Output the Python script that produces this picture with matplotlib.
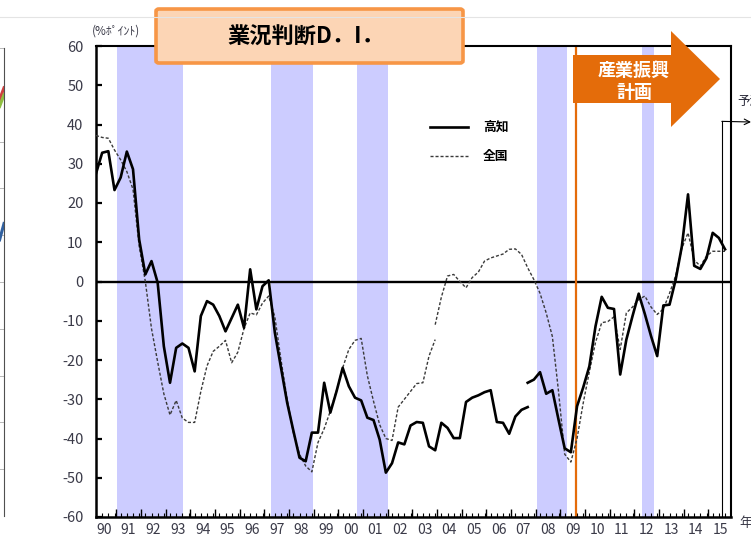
import numpy as np
import matplotlib
matplotlib.use("Agg")
import matplotlib.pyplot as plt
from matplotlib.patches import FancyBboxPatch, Polygon
from matplotlib.lines import Line2D

plt.rcParams['font.family'] = ['Liberation Sans Narrow', 'Noto Sans CJK JP', 'DejaVu Sans']
plt.rcParams['axes.unicode_minus'] = False
CJK = ['Noto Sans CJK JP', 'DejaVu Sans']

W, H = 751, 540

# ---- data: business conditions DI, quarterly from the March 1990 survey ----
first_survey = 1990.23
quarter_step = 0.25

# Kochi prefecture (old basis up to the series revision, then revised basis)
kochi_di = [27.5, 32.8, 33.2, 23.3, 26.5, 33.1, 28.6, 10.7, 1.8, 5.2,
            -0.3, -16.5, -25.8, -16.9, -15.8, -16.9, -22.9, -8.8, -5.0, -5.9,
            -8.8, -12.7, -9.3, -5.9, -11.8, 3.1, -7.1, -1.2, 0.3, -13.0,
            -22.0, -30.9, -38.0, -44.9, -45.8, -38.5, -38.5, -25.8, -33.4, -28.0,
            -22.0, -26.7, -29.6, -30.3, -34.7, -35.3, -40.3, -48.7, -46.3, -41.0,
            -41.5, -36.7, -35.8, -36.0, -42.0, -43.0, -36.0, -37.3, -39.9, -39.9,
            -30.7, -29.6, -29.0, -28.2, -27.7, -35.8, -36.0, -38.8, -34.4, -32.7,
            -32.0]
kochi_di_revised = [-25.8, -25.0, -23.1, -28.6, -27.7, -35.2, -42.5, -43.5, -31.8, -27.0,
                    -21.6, -11.4, -3.9, -6.7, -7.0, -23.7, -14.8, -8.8, -3.1, -8.3,
                    -13.9, -19.0, -6.1, -5.9, 0.5, 9.0, 22.2, 4.0, 3.2, 6.0,
                    12.4, 11.1, 8.2]

# Nationwide
national_di = [37.2, 36.7, 36.5, 33.5, 31.0, 28.0, 23.5, 9.0, 0.0, -12.0,
               -20.5, -28.6, -34.0, -30.3, -34.8, -35.9, -35.9, -28.0, -21.5, -17.8,
               -16.5, -15.0, -20.7, -18.0, -12.0, -8.0, -8.5, -5.5, -3.7, -9.0,
               -20.0, -30.0, -38.5, -44.0, -47.0, -48.5, -41.0, -37.5, -33.0, -27.8,
               -22.0, -17.3, -15.0, -14.5, -24.0, -30.5, -36.5, -40.0, -40.5, -32.0,
               -30.0, -28.0, -26.0, -25.8, -19.0, -14.8]
national_di_revised = [-11.0, -4.0, 1.4, 1.8, 0.0, -1.6, 1.0, 2.4, 5.2, 6.0,
                       6.5, 7.0, 8.2, 8.3, 6.9, 3.5, 0.5, -3.0, -8.0, -14.0,
                       -28.0, -44.0, -46.0, -40.0, -31.0, -23.0, -15.5, -10.5, -10.2, -9.0,
                       -17.3, -8.0, -6.5, -4.6, -3.7, -6.5, -8.4, -7.0, -3.0, 1.5,
                       8.5, 12.4, 5.5, 3.9, 6.5, 7.7, 7.7, 7.7]

# recession periods (decimal years)
recessions = [(1991.08, 1993.76), (1997.32, 1999.03), (2000.81, 2002.07),
              (2008.11, 2009.32), (2012.36, 2012.85)]
plan_start = 2009.69        # start of the industrial promotion plan
forecast_mark = 2015.60

year_labels = ['90', '91', '92', '93', '94', '95', '96', '97', '98', '99',
               '00', '01', '02', '03', '04', '05', '06', '07', '08', '09',
               '10', '11', '12', '13', '14', '15']
first_year = 1990
y_ticks = [60, 50, 40, 30, 20, 10, 0, -10, -20, -30, -40, -50, -60]

# small neighbouring panel at the left edge
left_panel_red = [8.9, 9.15]
left_panel_green = [8.75, 9.0]
left_panel_blue = [5.9, 6.25]


def px(x, y):
    return x / W, 1 - y / H


fig = plt.figure(figsize=(W / 100, H / 100), dpi=100)
fig.patch.set_facecolor('white')

# faint slide header rule
fig.add_artist(Line2D([0, 1], [1 - 17 / H] * 2, color='#e4e4e4', lw=0.8,
                      transform=fig.transFigure))

# neighbouring chart fragment
axl = fig.add_axes([-40 / W, 1 - 516 / H, 44 / W, 468 / H])
axl.set_xlim(0, 1)
axl.set_ylim(0, 10)
axl.set_yticks(range(0, 11))
axl.grid(axis='y', color='#b8b8b8', lw=0.7)
axl.tick_params(length=0, labelleft=False, labelbottom=False)
for s in ['top', 'left', 'bottom']:
    axl.spines[s].set_visible(False)
axl.spines['right'].set_color('#505050')
axl.spines['right'].set_linewidth(0.8)
axl.plot([0.9, 1.0], left_panel_red, color='#d04040', lw=2.2)
axl.plot([0.9, 1.0], left_panel_green, color='#8fbf40', lw=2.2)
axl.plot([0.9, 1.0], left_panel_blue, color='#3060a0', lw=2.2)

# main chart
left, right, top, bottom = 96, 731, 46, 517
ax = fig.add_axes([left / W, 1 - bottom / H, (right - left) / W, (bottom - top) / H])

t_kochi = first_survey + quarter_step * np.arange(len(kochi_di))
t_kochi_rev = first_survey + quarter_step * (len(kochi_di) - 1 + np.arange(len(kochi_di_revised)))
t_nat = first_survey + quarter_step * np.arange(len(national_di))
t_nat_rev = first_survey + quarter_step * (len(national_di) - 1 + np.arange(len(national_di_revised)))

for a, b in recessions:
    ax.axvspan(a, b, color='#ccccff', lw=0, zorder=0)

ax.axhline(0, color='black', lw=1.7, zorder=2)
ax.axvline(plan_start, color='#e46c0a', lw=1.6, zorder=2)

dash = (2.2, 1.4)
ax.plot(t_nat, national_di, color='#3a3a3a', lw=1.0, dashes=dash, zorder=3, label='全国')
ax.plot(t_nat_rev, national_di_revised, color='#3a3a3a', lw=1.0, dashes=dash, zorder=3)
ax.plot(t_kochi, kochi_di, color='black', lw=1.9, zorder=4, label='高知')
ax.plot(t_kochi_rev, kochi_di_revised, color='black', lw=1.9, zorder=4)

x_end = first_survey + (right - left) / (4 * 6.167)
ax.set_xlim(first_survey, x_end)
ax.set_ylim(-60, 60)

ax.set_yticks(y_ticks)
ax.set_yticklabels([str(v) for v in y_ticks])
ax.tick_params(axis='y', direction='in', length=4, width=1.6, pad=9,
               labelsize=10.5, labelcolor='#3a3a48')

year_centres = [first_year + i + 0.55 for i in range(len(year_labels))]
ax.set_xticks(year_centres)
ax.set_xticklabels(year_labels)
ax.tick_params(axis='x', length=0, pad=4, labelsize=10, labelcolor='#3a3a48')
ax.set_xticks(np.arange(first_survey, x_end, quarter_step), minor=True)
ax.tick_params(axis='x', which='minor', direction='in', length=3, width=0.8)

sec = ax.secondary_xaxis('bottom')
sec.set_xticks([first_year + i + 0.05 for i in range(1, len(year_labels) + 1)])
sec.tick_params(direction='in', length=6, width=1.0, labelbottom=False)
sec.spines['bottom'].set_visible(False)

for s, w in [('left', 1.8), ('bottom', 1.8), ('top', 1.5), ('right', 1.5)]:
    ax.spines[s].set_linewidth(w)
    ax.spines[s].set_color('black')

# legend
handles, labels = ax.get_legend_handles_labels()
order = [labels.index('高知'), labels.index('全国')]
leg = ax.legend([handles[i] for i in order], [labels[i] for i in order],
                loc='upper left', bbox_to_anchor=((430 - left) / (right - left), (bottom - 121) / (bottom - top)),
                frameon=False, handlelength=3.0, handletextpad=1.15, labelspacing=1.25,
                borderpad=0, borderaxespad=0, prop={'family': CJK, 'size': 9.2, 'weight': 'bold'})

# forecast marker
fc_top = 40.8
ax.plot([forecast_mark, forecast_mark], [-60, fc_top], color='black', lw=0.8, zorder=5)
ax.annotate('', xy=px(751, 122), xycoords='figure fraction',
            xytext=(forecast_mark, fc_top), textcoords='data',
            arrowprops=dict(arrowstyle='->', lw=0.8, color='black', shrinkA=0, shrinkB=0,
                            mutation_scale=10), annotation_clip=False)
fig.text(*px(737, 101), '予測', family=CJK, fontsize=9, va='center', ha='left', color='#202030')

# axis unit and year suffix
fig.text(*px(92, 31), '(%ﾎﾟｲﾝﾄ)', family=CJK, fontsize=8.5, va='center', ha='left', color='#3a3a48')
fig.text(*px(739, 524), '年', family=CJK, fontsize=9.5, va='center', ha='left', color='#3a3a48')

# title box
x0, y0 = px(156, 63)
title_box = FancyBboxPatch((x0, y0), (463 - 156) / W, 54 / H,
                           boxstyle='round,pad=0,rounding_size=0.004',
                           transform=fig.transFigure, fc='#fcd5b5', ec='#f79646', lw=2.6)
fig.add_artist(title_box)
fig.text(*px(306, 37), '業況判断D．I．', family=CJK, fontsize=16, weight='bold',
         ha='center', va='center', color='black')

# block arrow for the industrial promotion plan
arrow_pts = [px(573, 55), px(671, 55), px(671, 31), px(720, 79),
             px(671, 127), px(671, 103), px(573, 103)]
fig.add_artist(Polygon(arrow_pts, closed=True, transform=fig.transFigure,
                       fc='#e46c0a', ec='none'))
fig.text(*px(634, 70), '産業振興', family=CJK, fontsize=13, weight='bold',
         ha='center', va='center', color='white')
fig.text(*px(634, 92), '計画', family=CJK, fontsize=13, weight='bold',
         ha='center', va='center', color='white')

fig.savefig('out.png', dpi=100)
